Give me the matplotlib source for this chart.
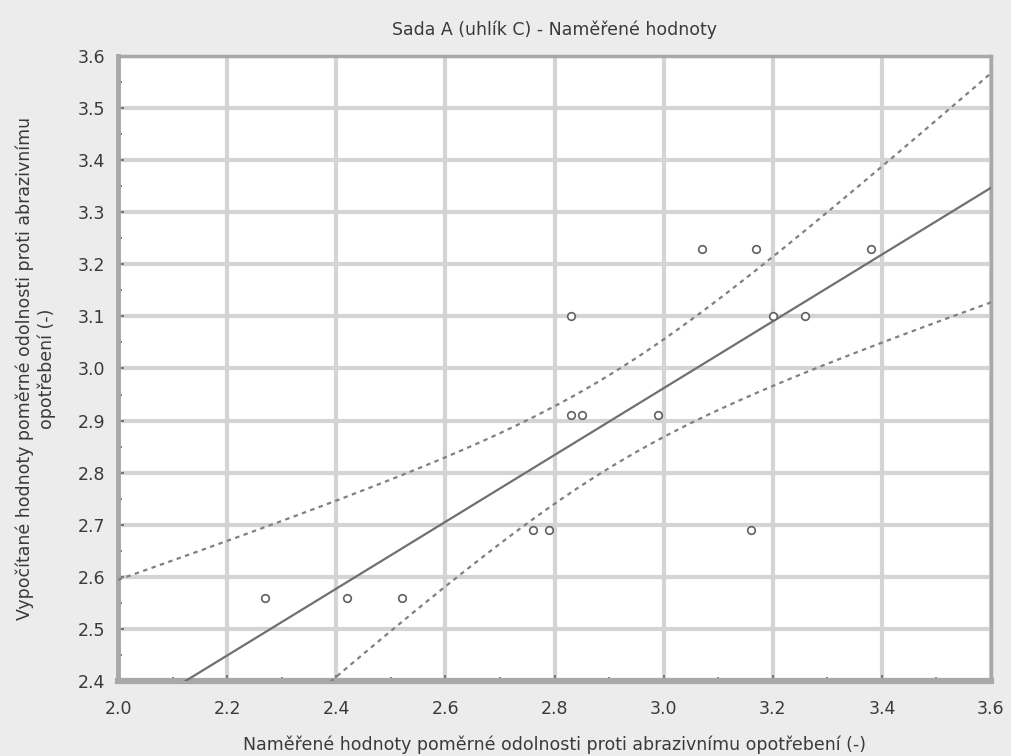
import numpy as np
import matplotlib
matplotlib.use("Agg")
import matplotlib.pyplot as plt
from matplotlib.ticker import MultipleLocator

title = "Sada A (uhlík C) - Naměřené hodnoty"
xlabel = "Naměřené hodnoty poměrné odolnosti proti abrazivnímu opotřebení (-)"
ylabel = "Vypočítané hodnoty poměrné odolnosti proti abrazivnímu\nopotřebení (-)"

measured = [2.27, 2.42, 2.52, 2.76, 2.79, 3.16, 2.83, 2.85, 2.99, 2.83, 3.20, 3.26, 3.07, 3.17, 3.38]
computed = [2.56, 2.56, 2.56, 2.69, 2.69, 2.69, 2.91, 2.91, 2.91, 3.10, 3.10, 3.10, 3.23, 3.23, 3.23]
t_crit = 2.160  # t(0.975, n-2) for n = 15

x = np.array(measured)
y = np.array(computed)
n = len(x)
b, a = np.polyfit(x, y, 1)
resid = y - (a + b * x)
s = np.sqrt(np.sum(resid**2) / (n - 2))
sxx = np.sum((x - x.mean())**2)
xs = np.linspace(2.0, 3.6, 300)
yfit = a + b * xs
hw = t_crit * s * np.sqrt(1.0 / n + (xs - x.mean())**2 / sxx)

txt = "#3a3a3a"
fig = plt.figure(figsize=(10.11, 7.56), dpi=100, facecolor="#ececec")
ax = fig.add_axes([118/1011, 1 - 681/756, (991-118)/1011, (681-56)/756])
ax.set_facecolor("white")

ax.plot(xs, yfit, color="#707070", lw=1.6, zorder=3)
ax.plot(xs, yfit + hw, color="#808080", lw=1.6, ls=(0, (2, 2)), zorder=3)
ax.plot(xs, yfit - hw, color="#808080", lw=1.6, ls=(0, (2, 2)), zorder=3)
ax.scatter(x, y, s=30, facecolors="white", edgecolors="#606060", linewidths=1.2, zorder=4)

ax.set_xlim(2.0, 3.6)
ax.set_ylim(2.4, 3.6)
ax.xaxis.set_major_locator(MultipleLocator(0.2))
ax.xaxis.set_minor_locator(MultipleLocator(0.1))
ax.yaxis.set_major_locator(MultipleLocator(0.1))
ax.yaxis.set_minor_locator(MultipleLocator(0.05))
ax.grid(True, which="major", color="#d4d4d4", lw=3, zorder=0)
ax.set_axisbelow(True)
for sp in ax.spines.values():
    sp.set_color("#a8a8a8")
    sp.set_linewidth(2.5)
ax.spines["bottom"].set_linewidth(4.5)
ax.spines["left"].set_linewidth(3.5)
ax.tick_params(which="both", direction="in", color="#666666", labelsize=12.5, labelcolor=txt)
ax.tick_params(which="major", length=4, width=1.2)
ax.tick_params(which="minor", length=3, width=1.2)
ax.tick_params(axis="x", which="major", pad=14)
ax.tick_params(axis="y", which="major", pad=9)

ax.set_title(title, fontsize=12.5, color=txt, pad=15)
ax.set_xlabel(xlabel, fontsize=12.5, color=txt, labelpad=12)
ax.set_ylabel(ylabel, fontsize=12.5, color=txt, labelpad=16)

fig.savefig("out.png", dpi=100, facecolor=fig.get_facecolor())
